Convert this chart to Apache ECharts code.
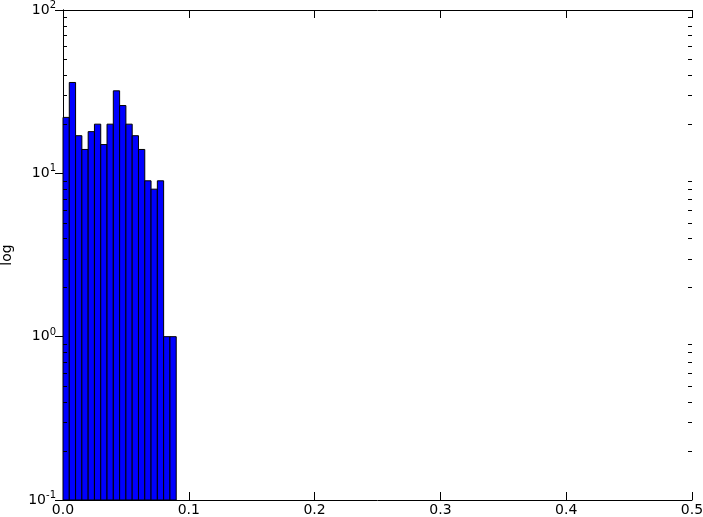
<!DOCTYPE html>
<html>
<head>
<meta charset="utf-8">
<script src="https://cdn.jsdelivr.net/npm/echarts@6/dist/echarts.min.js"></script>
<style>
  html, body { margin: 0; padding: 0; background: #fff; }
  #chart { width: 703px; height: 517px; }
</style>
</head>
<body>
<div id="chart"></div>
<script>
// histogram bins (left edges) and counts, bin width 0.005
const binWidth = 0.005;
const binStarts = [0, 0.005, 0.01, 0.015, 0.02, 0.025, 0.03, 0.035, 0.04, 0.045, 0.05, 0.055, 0.06, 0.065, 0.07, 0.075, 0.08, 0.085];
const counts = [22, 36, 17, 14, 18, 20, 15, 20, 32, 26, 20, 17, 14, 9, 8, 9, 1, 1];
const yMin = 0.1, yMax = 100, xMin = 0, xMax = 0.5;
const minorTicks = [];
[0.1, 1, 10].forEach(d => { for (let k = 2; k <= 9; k++) minorTicks.push(d * k); });

const chart = echarts.init(document.getElementById('chart'));
const font = 'DejaVu Sans';
const axisLine = { show: true, lineStyle: { color: '#000', width: 1 } };
const tickIn = { show: true, inside: true, length: 8, lineStyle: { color: '#000' } };

chart.setOption({
  animation: false,
  grid: { left: 63, right: 11, top: 10, bottom: 17, containLabel: false, outerBoundsMode: 'none' },
  xAxis: [
    {
      type: 'value', min: xMin, max: xMax, interval: 0.1,
      axisLine, axisTick: tickIn, splitLine: { show: false },
      axisLabel: { color: '#000', fontFamily: font, fontSize: 14, margin: 3, formatter: v => v.toFixed(1) }
    },
    {
      type: 'value', position: 'top', min: xMin, max: xMax, interval: 0.1,
      axisLine, axisTick: tickIn, splitLine: { show: false }, axisLabel: { show: false }
    }
  ],
  yAxis: [
    {
      type: 'log', min: yMin, max: yMax, logBase: 10,
      name: 'log', nameLocation: 'middle', nameGap: 49, nameRotate: 90,
      nameTextStyle: { color: '#000', fontFamily: font, fontSize: 14 },
      axisLine, axisTick: tickIn, splitLine: { show: false },
      axisLabel: {
        color: '#000', margin: 7,
        formatter: v => '{b|10}{s|' + Math.round(Math.log10(v)) + '}',
        rich: {
          b: { fontFamily: font, fontSize: 14, color: '#000' },
          s: { fontFamily: font, fontSize: 10, color: '#000', padding: [0, 0, 9, 0] }
        }
      }
    },
    {
      type: 'log', min: yMin, max: yMax, logBase: 10, position: 'right',
      axisLine, axisTick: tickIn, splitLine: { show: false }, axisLabel: { show: false }
    }
  ],
  series: [
    {
      type: 'custom',
      data: binStarts.map((x, i) => [x, counts[i]]),
      encode: { x: 0, y: 1 },
      renderItem: (params, api) => {
        const x0 = api.value(0), c = api.value(1);
        const p0 = api.coord([x0, c]);
        const p1 = api.coord([x0 + binWidth, yMin]);
        return {
          type: 'rect',
          shape: { x: p0[0], y: p0[1], width: p1[0] - p0[0], height: p1[1] - p0[1] },
          style: { fill: '#0000ff', stroke: '#000', lineWidth: 1 }
        };
      },
      z: 1
    }
  ]
});

// minor log ticks on both spines, placed through the axis scale
const tickLines = [];
minorTicks.forEach(v => {
  const left = chart.convertToPixel({ gridIndex: 0 }, [xMin, v]);
  const right = chart.convertToPixel({ gridIndex: 0 }, [xMax, v]);
  const y = Math.round(left[1]) + 0.5;
  tickLines.push({ type: 'line', z: 100, shape: { x1: left[0], y1: y, x2: left[0] + 4, y2: y }, style: { stroke: '#000', lineWidth: 1 } });
  tickLines.push({ type: 'line', z: 100, shape: { x1: right[0] - 4, y1: y, x2: right[0], y2: y }, style: { stroke: '#000', lineWidth: 1 } });
});
chart.setOption({ graphic: tickLines });
</script>
</body>
</html>
